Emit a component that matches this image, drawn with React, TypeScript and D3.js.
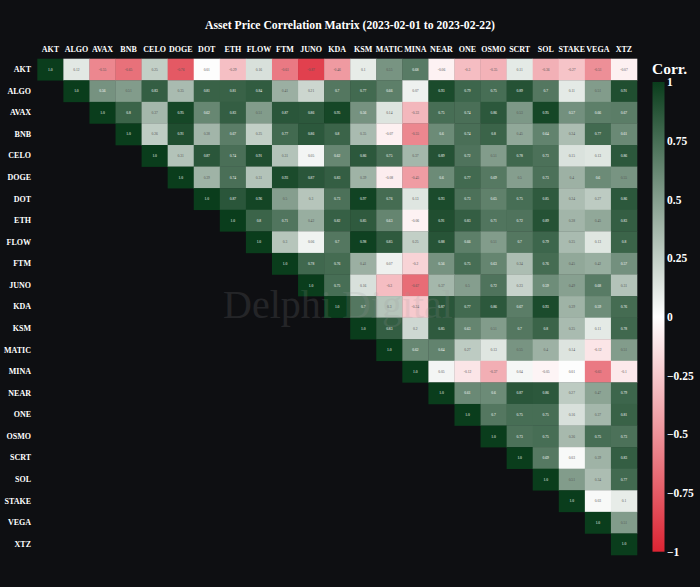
import * as d3 from 'd3';
import { useEffect, useRef } from 'react';

const assets = ['AKT', 'ALGO', 'AVAX', 'BNB', 'CELO', 'DOGE', 'DOT', 'ETH', 'FLOW', 'FTM', 'JUNO', 'KDA', 'KSM', 'MATIC', 'MINA', 'NEAR', 'ONE', 'OSMO', 'SCRT', 'SOL', 'STAKE', 'VEGA', 'XTZ'];

// upper triangle, each row starts on its own diagonal
const rowAKT = [1, 0.12, -0.55, -0.65, 0.25, -0.76, 0.01, -0.29, 0.16, -0.61, -0.87, -0.46, 0.1, 0.55, 0.68, -0.06, -0.3, -0.35, 0.11, -0.36, -0.27, -0.51, -0.07];
const rowALGO = [1, 0.56, 0.51, 0.83, 0.35, 0.81, 0.81, 0.84, 0.41, 0.21, 0.7, 0.77, 0.66, 0.07, 0.93, 0.79, 0.75, 0.89, 0.7, 0.11, 0.51, 0.91];
const rowAVAX = [1, 0.8, 0.37, 0.95, 0.62, 0.83, 0.51, 0.87, 0.86, 0.95, 0.56, 0.14, -0.33, 0.75, 0.74, 0.86, 0.53, 0.95, 0.57, 0.66, 0.67];
const rowBNB = [1, 0.26, 0.91, 0.38, 0.67, 0.25, 0.77, 0.86, 0.8, 0.35, -0.07, -0.55, 0.6, 0.74, 0.8, 0.45, 0.64, 0.34, 0.77, 0.61];
const rowCELO = [1, 0.31, 0.87, 0.74, 0.91, 0.31, 0.05, 0.62, 0.86, 0.75, 0.37, 0.89, 0.72, 0.51, 0.78, 0.73, 0.15, 0.13, 0.86];
const rowDOGE = [1, 0.39, 0.74, 0.31, 0.93, 0.87, 0.83, 0.39, -0.08, -0.45, 0.6, 0.77, 0.69, 0.5, 0.73, 0.4, 0.6, 0.55];
const rowDOT = [1, 0.87, 0.96, 0.5, 0.3, 0.73, 0.97, 0.76, 0.13, 0.93, 0.73, 0.65, 0.75, 0.85, 0.34, 0.27, 0.86];
const rowETH = [1, 0.8, 0.71, 0.42, 0.82, 0.85, 0.63, -0.06, 0.91, 0.83, 0.71, 0.72, 0.89, 0.38, 0.45, 0.83];
const rowFLOW = [1, 0.3, 0.06, 0.7, 0.98, 0.85, 0.25, 0.88, 0.66, 0.51, 0.7, 0.79, 0.35, 0.13, 0.8];
const rowFTM = [1, 0.78, 0.76, 0.41, 0.07, -0.2, 0.56, 0.75, 0.63, 0.34, 0.76, 0.45, 0.42, 0.57];
const rowJUNO = [1, 0.75, 0.16, -0.3, -0.67, 0.37, 0.5, 0.72, 0.23, 0.59, 0.49, 0.68, 0.31];
const rowKDA = [1, 0.7, 0.3, -0.24, 0.87, 0.77, 0.86, 0.67, 0.93, 0.39, 0.59, 0.76];
const rowKSM = [1, 0.83, 0.2, 0.85, 0.63, 0.51, 0.7, 0.8, 0.35, 0.11, 0.78];
const rowMATIC = [1, 0.62, 0.64, 0.27, 0.13, 0.55, 0.4, 0.14, -0.12, 0.51];
const rowMINA = [1, 0.05, -0.12, -0.37, 0.04, -0.05, 0.01, -0.61, -0.1];
const rowNEAR = [1, 0.61, 0.6, 0.87, 0.86, 0.27, 0.47, 0.79];
const rowONE = [1, 0.7, 0.75, 0.75, 0.16, 0.37, 0.81];
const rowOSMO = [1, 0.73, 0.75, 0.36, 0.75, 0.73];
const rowSCRT = [1, 0.69, 0.03, 0.39, 0.83];
const rowSOL = [1, 0.51, 0.34, 0.77];
const rowSTAKE = [1, 0.03, 0.1];
const rowVEGA = [1, 0.51];
const rowXTZ = [1];

const corrRows = [rowAKT, rowALGO, rowAVAX, rowBNB, rowCELO, rowDOGE, rowDOT, rowETH, rowFLOW, rowFTM, rowJUNO, rowKDA, rowKSM, rowMATIC, rowMINA, rowNEAR, rowONE, rowOSMO, rowSCRT, rowSOL, rowSTAKE, rowVEGA, rowXTZ];

const legendTicks = [1, 0.75, 0.5, 0.25, 0, -0.25, -0.5, -0.75, -1];

const width = 700;
const height = 587;
const bgColor = '#0e0f12';
const serif = '"Liberation Serif", serif';

export default function App() {
    const svgRef = useRef<SVGSVGElement>(null);

    useEffect(() => {
        const svg = d3.select(svgRef.current);
        svg.selectAll('*').remove();

        const xScale = d3.scaleBand().domain(assets).range([37.3, 637]);
        const yScale = d3.scaleBand().domain(assets).range([58.7, 555]);
        const colorScale = d3
            .scaleLinear<string>()
            .domain([-1, 0, 1])
            .range(['#dc2433', '#ffffff', '#0a3d1c']);

        svg.append('text')
            .attr('x', 350)
            .attr('y', 29)
            .attr('text-anchor', 'middle')
            .attr('fill', '#fff')
            .attr('font-family', serif)
            .attr('font-weight', 'bold')
            .attr('font-size', 11.7)
            .text('Asset Price Correlation Matrix (2023-02-01 to 2023-02-22)');

        // Cells, flattened out of the triangle rows
        const cells = corrRows.flatMap((row, i) =>
            row.map((value, k) => ({ rowName: assets[i], colName: assets[i + k], value }))
        );

        const cellGroup = svg.append('g');
        cellGroup
            .selectAll('rect')
            .data(cells)
            .join('rect')
            .attr('x', (d) => xScale(d.colName))
            .attr('y', (d) => yScale(d.rowName))
            .attr('width', xScale.bandwidth() + 0.3)
            .attr('height', yScale.bandwidth() + 0.3)
            .attr('fill', (d) => colorScale(d.value));

        cellGroup
            .selectAll('text')
            .data(cells)
            .join('text')
            .attr('x', (d) => xScale(d.colName) + xScale.bandwidth() / 2)
            .attr('y', (d) => yScale(d.rowName) + yScale.bandwidth() / 2)
            .attr('dy', '0.35em')
            .attr('text-anchor', 'middle')
            .attr('font-family', serif)
            .attr('font-size', 3.6)
            .attr('fill', (d) => (Math.abs(d.value) > 0.55 && d.value > 0 ? '#fff' : '#555'))
            .text((d) => (d.value === 1 ? '1.0' : String(d.value)));

        // Column and row labels
        const xAxis = svg
            .append('g')
            .attr('transform', 'translate(0,52)')
            .call(d3.axisTop(xScale).tickSize(0).tickPadding(0));
        const yAxis = svg
            .append('g')
            .attr('transform', 'translate(31,0)')
            .call(d3.axisLeft(yScale).tickSize(0).tickPadding(0));
        [xAxis, yAxis].forEach((axis) => {
            axis.select('.domain').remove();
            axis.selectAll('text')
                .attr('fill', '#fff')
                .attr('font-family', serif)
                .attr('font-weight', 'bold')
                .attr('font-size', 8);
        });

        // Colour bar
        const legendScale = d3.scaleLinear().domain([-1, 1]).range([551.7, 82]);
        const gradient = svg
            .append('defs')
            .append('linearGradient')
            .attr('id', 'corrGradient')
            .attr('x1', 0)
            .attr('x2', 0)
            .attr('y1', 0)
            .attr('y2', 1);
        legendTicks.forEach((t) => {
            gradient
                .append('stop')
                .attr('offset', (1 - t) / 2)
                .attr('stop-color', colorScale(t));
        });

        svg.append('rect')
            .attr('x', 652.5)
            .attr('y', legendScale(1))
            .attr('width', 12)
            .attr('height', legendScale(-1) - legendScale(1))
            .attr('fill', 'url(#corrGradient)');

        const legendAxis = svg
            .append('g')
            .attr('transform', 'translate(667,0)')
            .call(
                d3
                    .axisRight(legendScale)
                    .tickValues(legendTicks)
                    .tickSize(0)
                    .tickPadding(0)
                    .tickFormat((d) => String(d).replace('-', '\u2212'))
            );
        legendAxis.select('.domain').remove();
        legendAxis
            .selectAll('text')
            .attr('fill', '#fff')
            .attr('font-family', serif)
            .attr('font-weight', 'bold')
            .attr('font-size', 11.5);

        svg.append('text')
            .attr('x', 652)
            .attr('y', 74)
            .attr('fill', '#fff')
            .attr('font-family', serif)
            .attr('font-weight', 'bold')
            .attr('font-size', 15.5)
            .text('Corr.');

        // Watermark sits over everything
        svg.append('text')
            .attr('x', 338)
            .attr('y', 318)
            .attr('text-anchor', 'middle')
            .attr('fill', '#999')
            .attr('opacity', 0.16)
            .attr('font-family', serif)
            .attr('font-size', 40)
            .text('Delphi Digital');
    }, []);

    return (
        <svg
            ref={svgRef}
            width={width}
            height={height}
            style={{ position: 'absolute', left: 0, top: 0, display: 'block', background: bgColor }}
        />
    );
}
